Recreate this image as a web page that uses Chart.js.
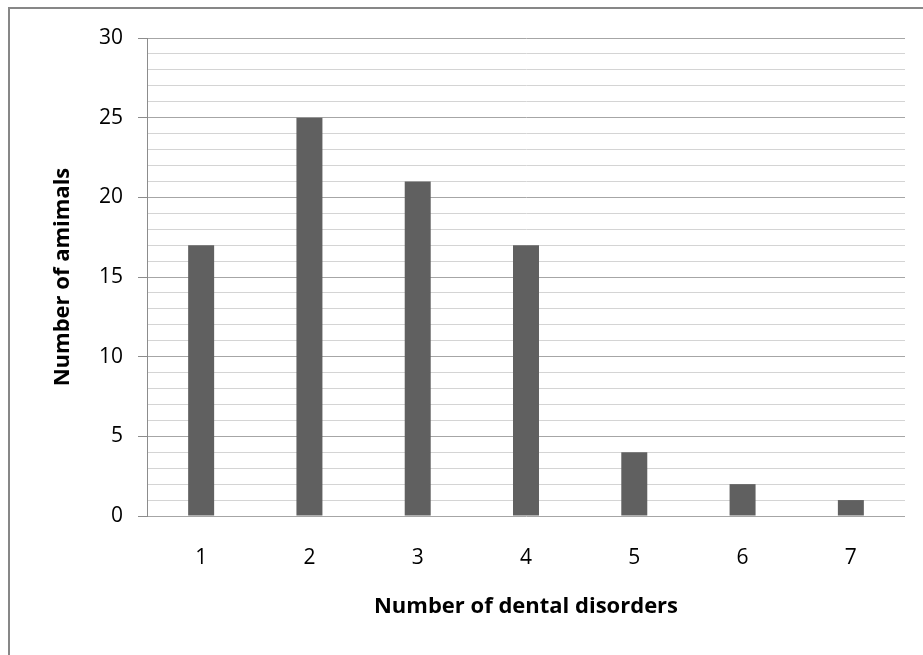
<!DOCTYPE html>
<html>
<head>
<meta charset="utf-8">
<script src="https://cdn.jsdelivr.net/npm/chart.js@4/dist/chart.umd.min.js"></script>
<style>
  html, body { margin: 0; padding: 0; background: #fff; }
  #wrap { width: 923px; height: 655px; }
</style>
</head>
<body>
<div id="wrap"><canvas id="chart" width="923" height="655"></canvas></div>
<script>
// Number of animals by number of dental disorders
const disorderCounts = ['1', '2', '3', '4', '5', '6', '7'];
const animalCounts = [17, 25, 21, 17, 4, 2, 1];
const yLabelValues = [0, 5, 10, 15, 20, 25, 30];

const FONT = "'Open Sans', 'Liberation Sans', sans-serif";

const framePlugin = {
  id: 'frame',
  beforeDraw(chart) {
    const ctx = chart.ctx;
    ctx.save();
    ctx.fillStyle = '#ffffff';
    ctx.fillRect(0, 0, chart.width, chart.height);
    ctx.strokeStyle = '#878787';
    ctx.lineWidth = 2;
    ctx.strokeRect(9, 8, chart.width + 20, chart.height + 20);
    ctx.restore();
  }
};

new Chart(document.getElementById('chart'), {
  type: 'bar',
  data: {
    labels: disorderCounts,
    datasets: [{
      data: animalCounts,
      backgroundColor: '#606060',
      borderWidth: 0,
      categoryPercentage: 1,
      barPercentage: 0.24
    }]
  },
  options: {
    responsive: false,
    animation: false,
    layout: { padding: { top: 38, right: 18, left: 0, bottom: 0 } },
    plugins: { legend: { display: false }, tooltip: { enabled: false } },
    scales: {
      x: {
        grid: { display: false, drawTicks: false },
        border: { display: false },
        ticks: {
          color: '#000',
          font: { family: FONT, size: 21 },
          padding: 29
        },
        title: {
          display: true,
          text: 'Number of dental disorders',
          color: '#000',
          font: { family: FONT, size: 22, weight: 'bold' },
          padding: { top: 0, bottom: 35 }
        },
        afterFit(scale) { scale.height = 139; }
      },
      y: {
        min: 0,
        max: 30,
        ticks: {
          stepSize: 1,
          autoSkip: false,
          color: '#000',
          font: { family: FONT, size: 21 },
          padding: 15,
          callback: (v) => yLabelValues.includes(v) ? String(v) : ''
        },
        grid: {
          color: (c) => (c.tick && c.tick.value % 5 === 0) ? '#a6a6a6' : '#d4d4d4',
          tickColor: (c) => (c.tick && c.tick.value % 5 === 0) ? '#8c8c8c' : 'rgba(0,0,0,0)',
          tickLength: 9,
          lineWidth: 1
        },
        border: { display: true, color: '#8c8c8c', width: 1 },
        title: {
          display: true,
          text: 'Number of amimals',
          color: '#000',
          font: { family: FONT, size: 22, weight: 'bold' },
          padding: { top: 50, bottom: 0 }
        },
        afterFit(scale) { scale.width = 147; }
      }
    }
  },
  plugins: [framePlugin]
});
</script>
</body>
</html>
